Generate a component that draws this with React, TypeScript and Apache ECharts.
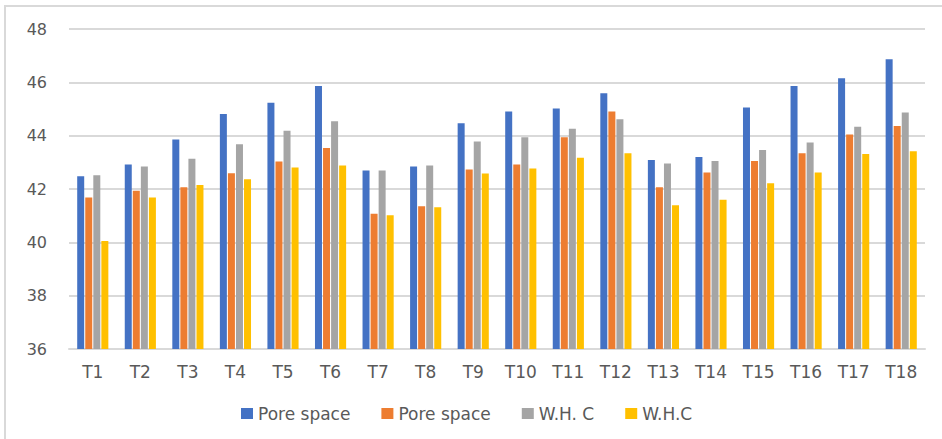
import React, { useEffect, useRef } from "react";
import * as echarts from "echarts";

const categories = ["T1","T2","T3","T4","T5","T6","T7","T8","T9","T10","T11","T12","T13","T14","T15","T16","T17","T18"];
const poreSpaceA = [42.48,42.92,43.86,44.81,45.23,45.86,42.69,42.84,44.47,44.91,45.02,45.59,43.09,43.2,45.06,45.86,46.15,46.87];
const poreSpaceB = [41.68,41.93,42.07,42.59,43.03,43.54,41.07,41.35,42.73,42.92,43.94,44.91,42.07,42.62,43.05,43.34,44.04,44.36];
const whcA = [42.52,42.84,43.13,43.68,44.18,44.54,42.69,42.88,43.78,43.94,44.26,44.62,42.96,43.05,43.46,43.74,44.33,44.87];
const whcB = [40.05,41.68,42.15,42.37,42.81,42.88,41.02,41.32,42.58,42.77,43.17,43.34,41.39,41.6,42.22,42.62,43.31,43.42];
const legendLabels = ["Pore space", "Pore space", "W.H. C", "W.H.C"];
const seriesKeys = ["s1", "s2", "s3", "s4"];
const colors = ["#4472C4", "#ED7D31", "#A5A5A5", "#FFC000"];
const yTicks = { min: 36, max: 48, interval: 2 };

export default function App() {
  const ref = useRef<HTMLDivElement>(null);
  useEffect(() => {
    if (!ref.current) return;
    const chart = echarts.init(ref.current, undefined, { renderer: "svg" });
    const dataSets = [poreSpaceA, poreSpaceB, whcA, whcB];
    chart.setOption({
      animation: false,
      backgroundColor: "#ffffff",
      textStyle: { fontFamily: "DejaVu Sans" },
      graphic: [
        {
          type: "rect",
          shape: { x: 5, y: 6, width: 960, height: 460 },
          style: { fill: "none", stroke: "#d9d9d9", lineWidth: 2 },
          silent: true,
        },
      ],
      grid: { left: 69, right: 17, top: 29, bottom: 90, containLabel: false },
      legend: {
        data: seriesKeys,
        bottom: 12,
        left: 236,
        itemWidth: 12,
        itemHeight: 11,
        itemGap: 31,
        icon: "rect",
        formatter: (name: string) => legendLabels[seriesKeys.indexOf(name)],
        textStyle: { color: "#595959", fontSize: 17, fontFamily: "DejaVu Sans" },
      },
      xAxis: {
        type: "category",
        data: categories,
        axisLine: { lineStyle: { color: "#d9d9d9", width: 2 } },
        axisTick: { show: false },
        axisLabel: { color: "#595959", fontSize: 17, margin: 14, fontFamily: "DejaVu Sans" },
      },
      yAxis: {
        type: "value",
        min: yTicks.min,
        max: yTicks.max,
        interval: yTicks.interval,
        axisLine: { show: false },
        axisTick: { show: false },
        splitLine: { lineStyle: { color: "#d9d9d9", width: 2 } },
        axisLabel: { color: "#595959", fontSize: 16, margin: 22, fontFamily: "DejaVu Sans" },
      },
      series: seriesKeys.map((k, i) => ({
        name: k,
        type: "bar",
        data: dataSets[i],
        barWidth: 7,
        barGap: "15%",
        itemStyle: { color: colors[i] },
      })),
    });
    return () => chart.dispose();
  }, []);
  return (
    <div
      ref={ref}
      style={{ position: "fixed", left: 0, top: 0, width: 942, height: 439, background: "#fff" }}
    />
  );
}
